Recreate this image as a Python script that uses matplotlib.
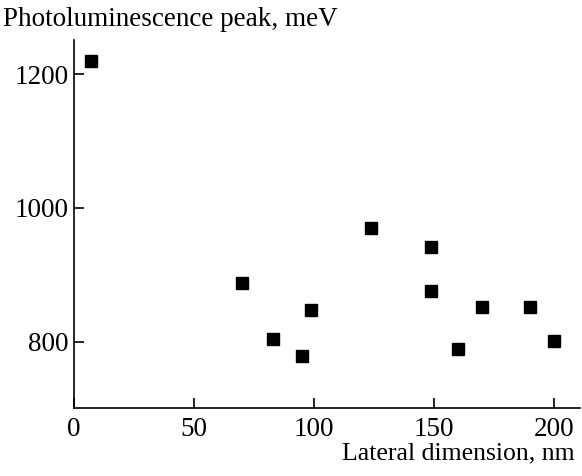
import numpy as np
import matplotlib.pyplot as plt

plt.rcParams['font.family'] = ['Liberation Serif', 'DejaVu Serif']

# lateral dimension (nm) and photoluminescence peak (meV)
size_nm = [7, 70, 83, 95, 99, 124, 149, 149, 160, 170, 190, 200]
peak_mev = [1220, 888, 804, 779, 847, 970, 941, 875, 789, 851, 851, 801]

fig = plt.figure(figsize=(5.82, 4.76), dpi=100)
ax = fig.add_axes([0.127, 0.142, 0.870, 0.774])

ax.plot(size_nm, peak_mev, ls='none', marker='s', ms=8.4, c='k', mec='k')

ax.set_xlim(0, 211)
ax.set_ylim(700, 1251)
ax.set_xticks([0, 50, 100, 150, 200])
ax.set_yticks([800, 1000, 1200])

for side in ['top', 'right']:
    ax.spines[side].set_visible(False)
for side in ['left', 'bottom']:
    ax.spines[side].set_linewidth(1.2)

ax.tick_params(direction='in', length=7.5, width=1.2, labelsize=19.5)
ax.tick_params(axis='x', pad=6)
ax.tick_params(axis='y', pad=4)

fig.text(0.005, 0.985, 'Photoluminescence peak, meV', fontsize=19.5, ha='left', va='top')
fig.text(0.987, 0.025, 'Lateral dimension, nm', fontsize=18.5, ha='right', va='bottom')

plt.savefig('out.png', dpi=100)
